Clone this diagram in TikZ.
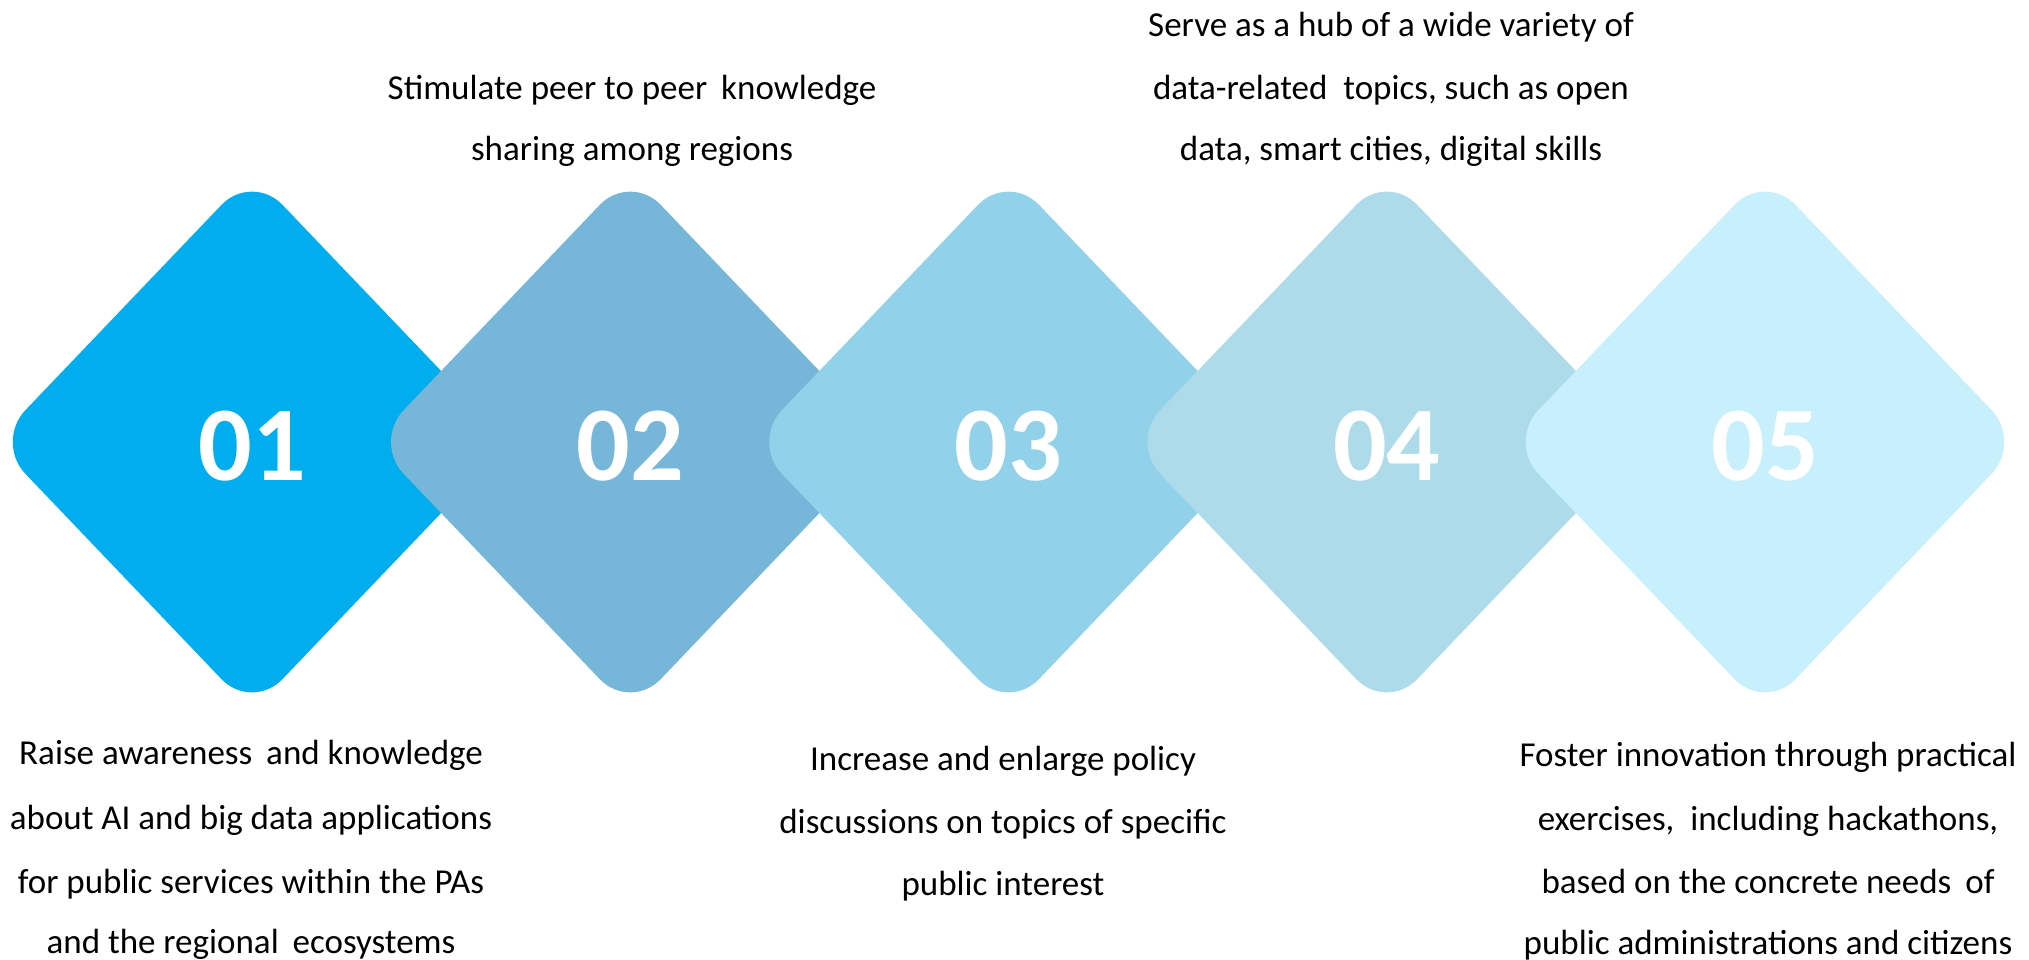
\documentclass[tikz,border=0pt]{standalone}
\usepackage{fontspec}
\setmainfont{Carlito}
\definecolor{cA}{HTML}{00AEEF}
\definecolor{cB}{HTML}{76B6D8}
\definecolor{cC}{HTML}{92D1EA}
\definecolor{cD}{HTML}{ADDBEA}
\definecolor{cE}{HTML}{C8EFFC}
\begin{document}
\begin{tikzpicture}[x=1pt,y=-1pt,
  gem/.style={rounded corners=44pt},
  num/.style={text=white,font=\fontsize{106}{106}\selectfont\bfseries,anchor=base,inner sep=0pt},
  txt/.style={font=\fontsize{35}{42}\selectfont,anchor=base,inner sep=0pt,text=black}]
\useasboundingbox (0,0) rectangle (2029,959);
\foreach \i/\c/\t in {0/cA/01,1/cB/02,2/cC/03,3/cD/04,4/cE/05}{
  \pgfmathsetmacro\cx{252+378.25*\i}
  \fill[\c,gem] ({\cx-128.5},307.5) -- (\cx,173) -- ({\cx+257},442) -- (\cx,711) -- ({\cx-257},442) -- cycle;
  \node[num] (n\i) at (\cx,480) {\t};
}
\node[txt] (t2a) at (632,99) {Stimulate peer to peer\hspace{6pt} knowledge};
\node[txt] (t2b) at (632,160) {sharing among regions};
\node[txt] (t4a) at (1391,36) {Serve as a hub of a wide variety of};
\node[txt] (t4b) at (1391,99) {data-related\hspace{8pt} topics, such as open};
\node[txt] (t4c) at (1391,160) {data, smart cities, digital skills};
\node[txt] (t1a) at (251,764) {Raise awareness\hspace{6pt} and knowledge};
\node[txt] (t1b) at (251,829) {about AI and big data applications};
\node[txt] (t1c) at (251,893) {for public services within the PAs};
\node[txt] (t1d) at (251,953) {and the regional\hspace{6pt} ecosystems};
\node[txt] (t3a) at (1003,770) {Increase and enlarge policy};
\node[txt] (t3b) at (1003,833) {discussions on topics of specific};
\node[txt] (t3c) at (1003,895) {public interest};
\node[txt] (t5a) at (1768,766) {Foster innovation through practical};
\node[txt] (t5b) at (1768,830) {exercises,\hspace{8pt} including hackathons,};
\node[txt] (t5c) at (1768,893) {based on the concrete needs\hspace{6pt} of};
\node[txt] (t5d) at (1768,954) {public administrations and citizens};
\end{tikzpicture}
\end{document}
